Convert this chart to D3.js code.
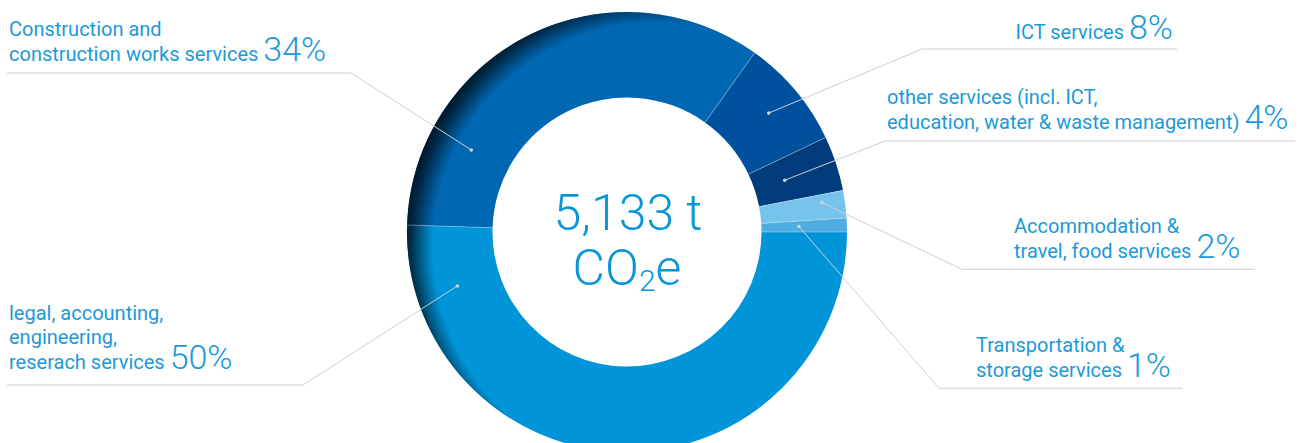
<!DOCTYPE html>
<html>
<head>
<meta charset="utf-8">
<script src="https://cdn.jsdelivr.net/npm/d3@7"></script>
<style>
  body { margin: 0; background: #fff; }
  svg { display: block; }
</style>
</head>
<body>
<div class="chart"></div>
<script>
// categories in drawing order (clockwise from 3 o'clock)
var categories = [
  "legal, accounting, engineering, reserach services",
  "Construction and construction works services",
  "ICT services",
  "other services (incl. ICT, education, water & waste management)",
  "Accommodation & travel, food services",
  "Transportation & storage services"
];
var labelLines = [
  ["legal, accounting,", "engineering,", "reserach services"],
  ["Construction and", "construction works services"],
  ["ICT services"],
  ["other services (incl. ICT,", "education, water & waste management)"],
  ["Accommodation &", "travel, food services"],
  ["Transportation &", "storage services"]
];
var shares = [50, 34, 8, 4, 2, 1];
var pctLabels = ["50%", "34%", "8%", "4%", "2%", "1%"];
var sliceColors = ["#0095d9", "#0068b3", "#00519d", "#003b7c", "#76c4ec", "#4eade1"];
var totalLines = ["5,133 t", "CO", "2", "e"];

var svgWidth = 1309, svgHeight = 443;
var cx = 627, cy = 232;
var outerR = 220, innerR = 134.5;

var textColor = "#1a9ad7";
var lineColor = "#c9d0d8";

// label layout: where the text sits, the underline and where the leader dot lands in the slice
var labelLayout = [
  {x: 9,    y: 319.5, anchor: "start", lineY: 385,   x1: 7,   x2: 303,  elbow: "right", frac: 0.893, dotR: 178},
  {x: 9,    y: 36,    anchor: "start", lineY: 73,    x1: 7,   x2: 351,  elbow: "right", frac: 0.21,  dotR: 176},
  {x: 1173, y: 39,    anchor: "end",   lineY: 49,    x1: 922, x2: 1177, elbow: "left",  frac: 0.5,   dotR: 185},
  {x: 887,  y: 104.3, anchor: "start", lineY: 141,   x1: 885, x2: 1295, elbow: "left",  frac: 0.5,   dotR: 166},
  {x: 1014, y: 233.3, anchor: "start", lineY: 269.3, x1: 962, x2: 1255, elbow: "left",  frac: 0.32,  dotR: 197},
  {x: 976,  y: 352.3, anchor: "start", lineY: 388.3, x1: 939, x2: 1183, elbow: "left",  frac: 0.5,   dotR: 172}
];
var lineHeight = 24.5;

var svg = d3.select(".chart")
  .append("svg")
  .attr("width", svgWidth)
  .attr("height", svgHeight);

var defs = svg.append("defs");

// dark rim shading, strongest at the upper left of the ring (coords relative to ring centre)
var shade = defs.append("radialGradient")
  .attr("id", "rimShade")
  .attr("gradientUnits", "userSpaceOnUse")
  .attr("cx", 30).attr("cy", 15)
  .attr("r", 253);
shade.append("stop").attr("offset", 0.885).attr("stop-color", "#001424").attr("stop-opacity", 0);
shade.append("stop").attr("offset", 0.93).attr("stop-color", "#001424").attr("stop-opacity", 0.4);
shade.append("stop").attr("offset", 0.97).attr("stop-color", "#001424").attr("stop-opacity", 0.78);
shade.append("stop").attr("offset", 1).attr("stop-color", "#001424").attr("stop-opacity", 0.95);

var pie = d3.pie()
  .sort(null)
  .value(d => d)
  .startAngle(Math.PI / 2)
  .endAngle(Math.PI / 2 + 2 * Math.PI);

var arc = d3.arc()
  .innerRadius(innerR)
  .outerRadius(outerR);

var arcs = pie(shares);

var chartGroup = svg.append("g")
  .attr("transform", `translate(${cx}, ${cy})`);

chartGroup.selectAll("path.slice")
  .data(arcs)
  .enter()
  .append("path")
  .attr("class", "slice")
  .attr("d", arc)
  .attr("fill", (d, i) => sliceColors[i]);

// shading overlay over the whole ring
chartGroup.append("path")
  .attr("d", arc({startAngle: 0, endAngle: 2 * Math.PI}))
  .attr("fill", "url(#rimShade)");

// thin light separators between slices
chartGroup.selectAll("line.sep")
  .data(arcs)
  .enter()
  .append("line")
  .attr("class", "sep")
  .attr("x1", d => innerR * Math.sin(d.startAngle))
  .attr("y1", d => -innerR * Math.cos(d.startAngle))
  .attr("x2", d => outerR * Math.sin(d.startAngle))
  .attr("y2", d => -outerR * Math.cos(d.startAngle))
  .attr("stroke", "#ffffff")
  .attr("stroke-opacity", 0.4)
  .attr("stroke-width", 0.8);

// leader lines + dots
var leaderGroup = svg.append("g");
arcs.forEach(function(d, i) {
  var L = labelLayout[i];
  var a = d.startAngle + L.frac * (d.endAngle - d.startAngle);
  var px = cx + L.dotR * Math.sin(a);
  var py = cy - L.dotR * Math.cos(a);
  var elbowX = L.elbow === "right" ? L.x2 : L.x1;
  var farX = L.elbow === "right" ? L.x1 : L.x2;
  leaderGroup.append("polyline")
    .attr("points", `${px},${py} ${elbowX},${L.lineY} ${farX},${L.lineY}`)
    .attr("fill", "none")
    .attr("stroke", lineColor)
    .attr("stroke-width", 1);
  leaderGroup.append("circle")
    .attr("cx", px)
    .attr("cy", py)
    .attr("r", 1.8)
    .attr("fill", "#d0d5da");
});

// labels
var labelGroup = svg.append("g")
  .attr("font-family", "Roboto, 'Noto Sans', sans-serif")
  .attr("fill", textColor);

labelLines.forEach(function(lines, i) {
  var L = labelLayout[i];
  var t = labelGroup.append("text")
    .attr("x", L.x)
    .attr("y", L.y)
    .attr("text-anchor", L.anchor)
    .attr("font-size", 20);
  lines.forEach(function(line, j) {
    t.append("tspan")
      .attr("x", L.x)
      .attr("dy", j === 0 ? 0 : lineHeight)
      .text(j === lines.length - 1 ? line + " " : line);
  });
  t.append("tspan")
    .attr("font-size", 34)
    .attr("font-weight", 300)
    .text(pctLabels[i]);
});

// total in the middle
var center = svg.append("text")
  .attr("x", cx)
  .attr("text-anchor", "middle")
  .attr("font-family", "Roboto, 'Noto Sans', sans-serif")
  .attr("font-weight", 300)
  .attr("font-size", 50)
  .attr("fill", "#0896d8");
center.append("tspan").attr("x", cx + 1).attr("y", 230).text(totalLines[0]);
center.append("tspan").attr("x", cx).attr("y", 285).text(totalLines[1]);
center.append("tspan").attr("font-size", 30).attr("dy", 6).text(totalLines[2]);
center.append("tspan").attr("dy", -6).text(totalLines[3]);
</script>
</body>
</html>
